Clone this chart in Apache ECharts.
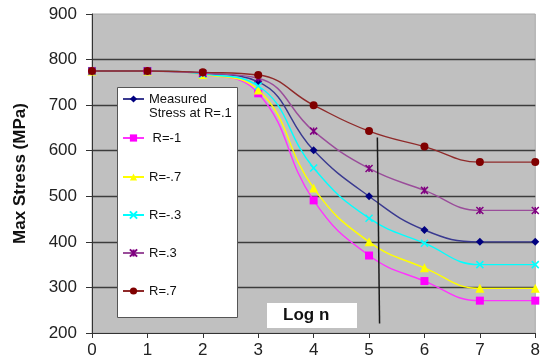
<!DOCTYPE html>
<html>
<head>
<meta charset="utf-8">
<script src="https://cdn.jsdelivr.net/npm/echarts@6/dist/echarts.min.js"></script>
<style>
  html, body { margin: 0; padding: 0; background: #fff; }
  #chart { width: 543px; height: 364px; }
</style>
</head>
<body>
<div id="chart"></div>
<script>
// Log of cycle count on the x axis
var logN = [0, 1, 2, 3, 4, 5, 6, 7, 8];

// Max stress (MPa) for each load ratio
var measuredR01 = [775, 775, 770, 751, 601, 500, 426, 400, 400];
var rMinus1     = [775, 775, 767, 726, 491, 370, 314, 271, 271];
var rMinus07    = [775, 775, 767, 733, 518, 400, 343, 298, 298];
var rMinus03    = [775, 775, 768, 742, 562, 452, 397, 350, 350];
var rPlus03     = [775, 775, 770, 759, 643, 561, 513, 469, 469];
var rPlus07     = [775, 775, 772, 766, 700, 643, 609, 575, 575];

// Reference cut line (log n, MPa) for its two end points
var cutLineX = [5.15, 5.19];
var cutLineY = [629, 221];

var yTicks = { min: 200, max: 900, step: 100 };
var xTicks = { min: 0, max: 8, step: 1 };

var FONT = 'Liberation Sans, Arial, sans-serif';

function pairs(xs, ys) {
  return xs.map(function (x, i) { return [x, ys[i]]; });
}

var X_PATH = 'path://M0,0L10,10M10,0L0,10';
var STAR_PATH = 'path://M0,0L10,10M10,0L0,10M5,0L5,10';

function lineSeries(name, values, color, lineColor, symbol, size, extraItem) {
  var itemStyle = { color: color };
  if (extraItem) {
    itemStyle.borderColor = color;
    itemStyle.borderWidth = 1.5;
  }
  return {
    name: name,
    type: 'line',
    data: pairs(logN, values),
    smooth: 0.45,
    symbol: symbol,
    symbolSize: size,
    showSymbol: true,
    lineStyle: { color: lineColor, width: 1.4 },
    itemStyle: itemStyle,
    emphasis: { disabled: true }
  };
}

var series = [
  lineSeries('Measured Stress at R=.1', measuredR01, '#000080', '#3a3a90', 'diamond', 8),
  lineSeries('R=-1', rMinus1, '#ff00ff', '#ff33ff', 'rect', 8),
  lineSeries('R=-.7', rMinus07, '#ffff00', '#ffff00', 'triangle', 9),
  lineSeries('R=-.3', rMinus03, '#00ffff', '#00ffff', X_PATH, 7, true),
  lineSeries('R=.3', rPlus03, '#800080', '#9a4d9a', STAR_PATH, 7, true),
  lineSeries('R=.7', rPlus07, '#800000', '#8f2a2a', 'circle', 8),
  {
    name: 'cut',
    type: 'line',
    data: pairs(cutLineX, cutLineY),
    symbol: 'none',
    lineStyle: { color: '#1a1a1a', width: 1.5 },
    silent: true,
    z: 3
  }
];

// One legend component per entry so each row sits at its own height
var legendRows = [
  { name: 'Measured Stress at R=.1', top: 78, text: '\nMeasured\nStress at R=.1' },
  { name: 'R=-1', top: 131, text: ' R=-1' },
  { name: 'R=-.7', top: 170, text: 'R=-.7' },
  { name: 'R=-.3', top: 208, text: 'R=-.3' },
  { name: 'R=.3', top: 246, text: 'R=.3' },
  { name: 'R=.7', top: 284, text: 'R=.7' }
];

var legends = legendRows.map(function (row) {
  return {
    data: [row.name],
    left: 122,
    top: row.top,
    orient: 'vertical',
    padding: 0,
    itemWidth: 21,
    itemHeight: 9,
    selectedMode: false,
    formatter: function () { return row.text; },
    textStyle: { fontFamily: FONT, fontSize: 13, lineHeight: 14, color: '#111' },
    z: 10
  };
});

var chart = echarts.init(document.getElementById('chart'), null, { renderer: 'canvas' });

chart.setOption({
  animation: false,
  backgroundColor: '#ffffff',
  grid: {
    left: 92, right: 2, top: 14, bottom: 31,
    show: true,
    backgroundColor: '#c0c0c0',
    borderColor: '#a8a8a8',
    borderWidth: 1
  },
  xAxis: {
    type: 'value',
    min: xTicks.min, max: xTicks.max, interval: xTicks.step,
    axisLine: { show: true, lineStyle: { color: '#333', width: 1 } },
    axisTick: { show: true, length: 5, lineStyle: { color: '#333' } },
    axisLabel: { fontFamily: FONT, fontSize: 17, color: '#222', margin: 9 },
    splitLine: { show: false }
  },
  yAxis: {
    type: 'value',
    min: yTicks.min, max: yTicks.max, interval: yTicks.step,
    name: 'Max Stress (MPa)',
    nameLocation: 'middle',
    nameGap: 63,
    nameTextStyle: { fontFamily: FONT, fontSize: 17, fontWeight: 'bold', color: '#111' },
    axisLine: { show: true, lineStyle: { color: '#333', width: 1 } },
    axisTick: { show: true, length: 6, lineStyle: { color: '#333' } },
    axisLabel: { fontFamily: FONT, fontSize: 17, color: '#222', margin: 15 },
    splitLine: { show: true, showMaxLine: false, showMinLine: false, lineStyle: { color: '#3c3c3c', width: 1.3 } }
  },
  legend: legends,
  graphic: [
    {
      type: 'rect',
      shape: { x: 117.5, y: 87.5, width: 120, height: 230 },
      style: { fill: '#ffffff', stroke: '#555555', lineWidth: 1 },
      z: 5
    },
    {
      type: 'rect',
      shape: { x: 267, y: 303, width: 90, height: 25 },
      style: { fill: '#ffffff' },
      z: 5
    },
    {
      type: 'text',
      x: 283,
      y: 315.5,
      style: {
        text: 'Log n',
        fontFamily: FONT,
        fontSize: 17,
        fontWeight: 'bold',
        fill: '#111',
        verticalAlign: 'middle'
      },
      z: 6
    }
  ],
  series: series
});
</script>
</body>
</html>
